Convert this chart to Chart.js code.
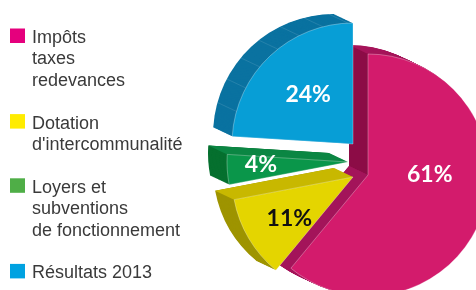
<!DOCTYPE html>
<html lang="fr">
<head>
<meta charset="utf-8">
<script src="https://cdn.jsdelivr.net/npm/chart.js@4/dist/chart.umd.min.js"></script>
<style>
  html, body { margin: 0; padding: 0; background: #fff; overflow: hidden; }
  #wrap { position: relative; width: 476px; height: 290px; }
</style>
</head>
<body>
<div id="wrap"><canvas id="recettes" width="476" height="290"></canvas></div>
<script>
// Catégories (une ligne du tableau par ligne de légende)
const categories = [
    ['Impôts', 'taxes', 'redevances'],
    ['Dotation', "d'intercommunalité"],
    ['Loyers et', 'subventions', 'de fonctionnement'],
    ['Résultats 2013']
];
const shares = [61, 11, 4, 24];
const shareLabels = ['61%', '11%', '4%', '24%'];

/* ---- couleurs ---- */
const legendColors = ['#e5007d', '#ffec00', '#4fae47', '#00a2e1'];
const faceColors = ['#d31b6c', '#e4d500', '#0a964a', '#079ed6'];
const sideColors = ['#a6165b', '#9e9400', '#06702f', '#0a72a0'];
const startFaceColors = ['#8c0c46', '#b3a500', '#0b8643', '#0a72a0'];
const endFaceColors = ['#a3145a', '#c8b800', '#0b8643', '#0a72a0'];
const facetColors = [null, null, null, 'rgba(255,255,255,0.14)'];
const labelColors = ['#ffffff', '#111111', '#ffffff', '#ffffff'];

/* ---- mise en forme 3D ---- */
const DEPTH = { x: -19, y: -9 };                         // profondeur de l'extrusion
const EXPLODE = [[0, 0], [-15, 2], [-20, -13], [-15, -31]]; // décalage des parts
const STEPS = 24;
const FACET = Math.PI / 15;
const labelPlace = [[0.41, 0.51], [0.43, 0.63], [0.61, 0.72], [0.51, 0.55]]; // [fraction d'angle, fraction de rayon]

function wedge(ctx, cx, cy, r, a0, a1) {
    ctx.beginPath();
    ctx.moveTo(cx, cy);
    ctx.arc(cx, cy, r, a0, a1);
    ctx.closePath();
}

function arcGeometry(arc, i) {
    const p = arc.getProps(['x', 'y', 'startAngle', 'endAngle', 'outerRadius'], true);
    return {
        cx: p.x + EXPLODE[i][0],
        cy: p.y + EXPLODE[i][1],
        r: p.outerRadius,
        a0: p.startAngle,
        a1: p.endAngle
    };
}

/* ---- parts en relief : côtés puis faces avant ---- */
const relief = {
    id: 'relief',
    beforeDatasetDraw(chart, args) {
        const ctx = chart.ctx;
        const arcs = args.meta.data;
        ctx.save();
        arcs.forEach((arc, i) => {
            const g = arcGeometry(arc, i);
            ctx.fillStyle = sideColors[i];
            for (let s = STEPS; s >= 1; s--) {
                const t = s / STEPS;
                wedge(ctx, g.cx + DEPTH.x * t, g.cy + DEPTH.y * t, g.r, g.a0, g.a1);
                ctx.fill();
            }
            // petites arêtes sur la tranche
            if (facetColors[i]) {
                ctx.strokeStyle = facetColors[i];
                ctx.lineWidth = 0.8;
                for (let a = g.a0 + FACET; a < g.a1 - 0.02; a += FACET) {
                    const px = g.cx + Math.cos(a) * g.r;
                    const py = g.cy + Math.sin(a) * g.r;
                    ctx.beginPath();
                    ctx.moveTo(px, py);
                    ctx.lineTo(px + DEPTH.x, py + DEPTH.y);
                    ctx.stroke();
                }
            }
            [[g.a0, -1, startFaceColors[i]], [g.a1, 1, endFaceColors[i]]].forEach(([a, sgn, col]) => {
                const nx = Math.cos(a + sgn * Math.PI / 2);
                const ny = Math.sin(a + sgn * Math.PI / 2);
                if (nx * DEPTH.x + ny * DEPTH.y <= 0) return;   // face cachée
                const px = g.cx + Math.cos(a) * g.r;
                const py = g.cy + Math.sin(a) * g.r;
                ctx.beginPath();
                ctx.moveTo(g.cx, g.cy);
                ctx.lineTo(px, py);
                ctx.lineTo(px + DEPTH.x, py + DEPTH.y);
                ctx.lineTo(g.cx + DEPTH.x, g.cy + DEPTH.y);
                ctx.closePath();
                ctx.fillStyle = col;
                ctx.fill();
            });
        });
        // faces avant, dessinées par Chart.js
        arcs.forEach((arc, i) => {
            ctx.save();
            ctx.translate(EXPLODE[i][0], EXPLODE[i][1]);
            arc.draw(ctx);
            ctx.restore();
        });
        ctx.restore();
        return false;
    }
};

/* ---- pourcentages sur les parts ---- */
const shareText = {
    id: 'shareText',
    afterDatasetsDraw(chart) {
        const ctx = chart.ctx;
        const arcs = chart.getDatasetMeta(0).data;
        ctx.save();
        ctx.font = 'bold 23px Lato';
        ctx.textAlign = 'center';
        ctx.textBaseline = 'middle';
        arcs.forEach((arc, i) => {
            const g = arcGeometry(arc, i);
            const [fa, fr] = labelPlace[i];
            const a = g.a0 + (g.a1 - g.a0) * fa;
            ctx.fillStyle = labelColors[i];
            ctx.fillText(shareLabels[i], g.cx + Math.cos(a) * g.r * fr, g.cy + Math.sin(a) * g.r * fr);
        });
        ctx.restore();
    }
};

/* ---- légende à gauche ---- */
const sideLegend = {
    id: 'sideLegend',
    afterDraw(chart) {
        const ctx = chart.ctx;
        const lh = 21.4;
        let line = 0;
        ctx.save();
        ctx.font = '18px "Liberation Sans"';
        ctx.textBaseline = 'alphabetic';
        categories.forEach((lines, i) => {
            const base = 43 + line * lh;
            ctx.fillStyle = legendColors[i];
            ctx.fillRect(10, base - 14.5, 15, 14.5);
            ctx.fillStyle = '#3a3a3a';
            lines.forEach((t, j) => ctx.fillText(t, 32, base + j * lh));
            line += lines.length + 1;
        });
        ctx.restore();
    }
};

new Chart(document.getElementById('recettes'), {
    type: 'pie',
    data: {
        labels: categories.map(c => c.join(' ')),
        datasets: [{
            data: shares,
            backgroundColor: faceColors,
            borderColor: 'rgba(255,255,255,0.3)',
            borderWidth: 1,
            hoverOffset: 0,
            radius: 121,
            clip: false
        }]
    },
    options: {
        responsive: false,
        animation: false,
        rotation: 0,
        layout: { padding: { left: 260, right: 0, top: 60, bottom: 0 } },
        plugins: {
            legend: { display: false },
            tooltip: { enabled: false }
        },
        events: []
    },
    plugins: [relief, shareText, sideLegend]
});
</script>
</body>
</html>
